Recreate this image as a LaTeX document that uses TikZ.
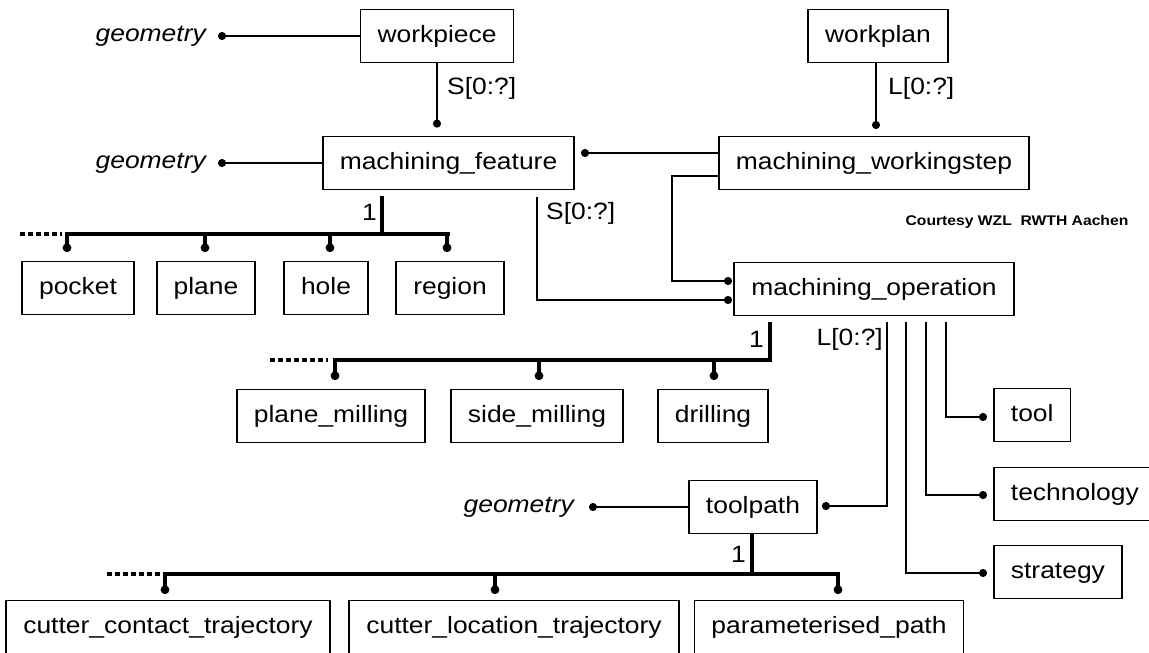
\documentclass[tikz,border=0pt]{standalone}
\usepackage{fontspec}
\setmainfont{Liberation Sans}[FakeStretch=1.12]
\usetikzlibrary{arrows.meta}
\newcommand\bigf{\fontsize{23.6}{28}\selectfont}
\begin{document}
\begin{tikzpicture}[x=1pt,y=-1pt,
 box/.style={draw,line width=1.8pt,minimum height=53pt,inner xsep=17pt,inner ysep=0pt,text height=17pt,text depth=5pt,font=\bigf},
 lab/.style={font=\bigf,inner sep=0pt},
 geo/.style={font=\bigf\itshape,inner sep=0pt,anchor=east},
 ln/.style={line width=1.9pt},
 dotend/.style={-{Circle[length=8pt,width=8pt]}},
 bus/.style={line width=4.5pt},
 drop/.style={line width=4pt,-{Circle[length=8.5pt,width=8.5pt]}},
 ext/.style={line width=4.5pt,dash pattern=on 5pt off 3pt}]
\useasboundingbox (0,0) rectangle (1149,653);
% boxes
\node[box] (wp) at (437,36) {workpiece};
\node[box] (wpl) at (878,36) {workplan};
\node[box] (mf) at (448.5,163) {machining\_feature};
\node[box] (mws) at (874,163) {machining\_workingstep};
\node[box] (mo) at (874,289) {machining\_operation};
\node[box] (pocket) at (78,288) {pocket};
\node[box] (plane) at (206,288) {plane};
\node[box] (hole) at (326,288) {hole};
\node[box] (region) at (450,288) {region};
\node[box] (pm) at (331,416) {plane\_milling};
\node[box] (sm) at (537,416) {side\_milling};
\node[box] (dr) at (713,416) {drilling};
\node[box,anchor=west] (tool) at (993,415) {tool};
\node[box,anchor=west] (tech) at (993,494) {technology};
\node[box,anchor=west] (strat) at (993,572) {strategy};
\node[box] (tp) at (753,507) {toolpath};
\node[box] (cct) at (168,627) {cutter\_contact\_trajectory};
\node[box] (clt) at (514,627) {cutter\_location\_trajectory};
\node[box] (pp) at (829,627) {parameterised\_path};
% geometry labels
\node[geo] (g1) at (206,36) {geometry};
\node[geo] (g2) at (206,163) {geometry};
\node[geo] (g3) at (574,507) {geometry};
\draw[ln,dotend] (wp.west) -- ([xshift=12pt]g1.east);
\draw[ln,dotend] (mf.west) -- ([xshift=12pt]g2.east);
\draw[ln,dotend] (tp.west) -- ([xshift=15pt]g3.east);
% multiplicity labels
\node[lab,anchor=west] (s1) at (447,88) {S[0:?]};
\node[lab,anchor=west] (l1) at (888,88) {L[0:?]};
\node[lab,anchor=west] (s2) at (546,213) {S[0:?]};
\node[lab,anchor=east] (l2) at (883,339) {L[0:?]};
\node[lab,anchor=east] (n1) at (377,212) {1};
\node[lab,anchor=east] (n2) at (764,339) {1};
\node[lab,anchor=east] (n3) at (746,554) {1};
\node[font=\bfseries\fontsize{14}{16}\selectfont,inner sep=0pt] (court) at (1017,222) {Courtesy WZL\ \ RWTH Aachen};
% connectors
\draw[ln,dotend] (wp.south) -- ([yshift=8pt]wp.south |- mf.north);
\draw[ln,dotend] (wpl.south -| 876,0) -- (876,129);
\draw[ln,dotend] (mws.west |- 0,153) -- (581,153);
\draw[ln,dotend] (mws.west |- 0,176) -- (672,176) -- (672,281) -- (732,281);
\draw[ln,dotend] (537,197) -- (537,300) -- (732,300);
\draw[ln,dotend] (887,322) -- (887,506) -- (822,506);
\draw[ln,dotend] (946,322) -- (946,417) -- (987,417);
\draw[ln,dotend] (926,322) -- (926,495) -- (987,495);
\draw[ln,dotend] (906,322) -- (906,573) -- (987,573);
% bus 1
\draw[bus] (382,196) -- (382,234);
\draw[bus] (65,234) -- (449.5,234);
\draw[ext] (20,234) -- (62,234);
\foreach \x in {67,205,330,447} \draw[drop] (\x,232) -- (\x,252);
% bus 2
\draw[bus] (770,322) -- (770,360);
\draw[bus] (333,360) -- (772,360);
\draw[ext] (270,360) -- (328,360);
\foreach \x in {335,539,714} \draw[drop] (\x,358) -- (\x,380);
% bus 3
\draw[bus] (752,534) -- (752,574);
\draw[bus] (163,574) -- (840,574);
\draw[ext] (107,574) -- (160,574);
\foreach \x in {165,495,838} \draw[drop] (\x,572) -- (\x,594);
\end{tikzpicture}
\end{document}
